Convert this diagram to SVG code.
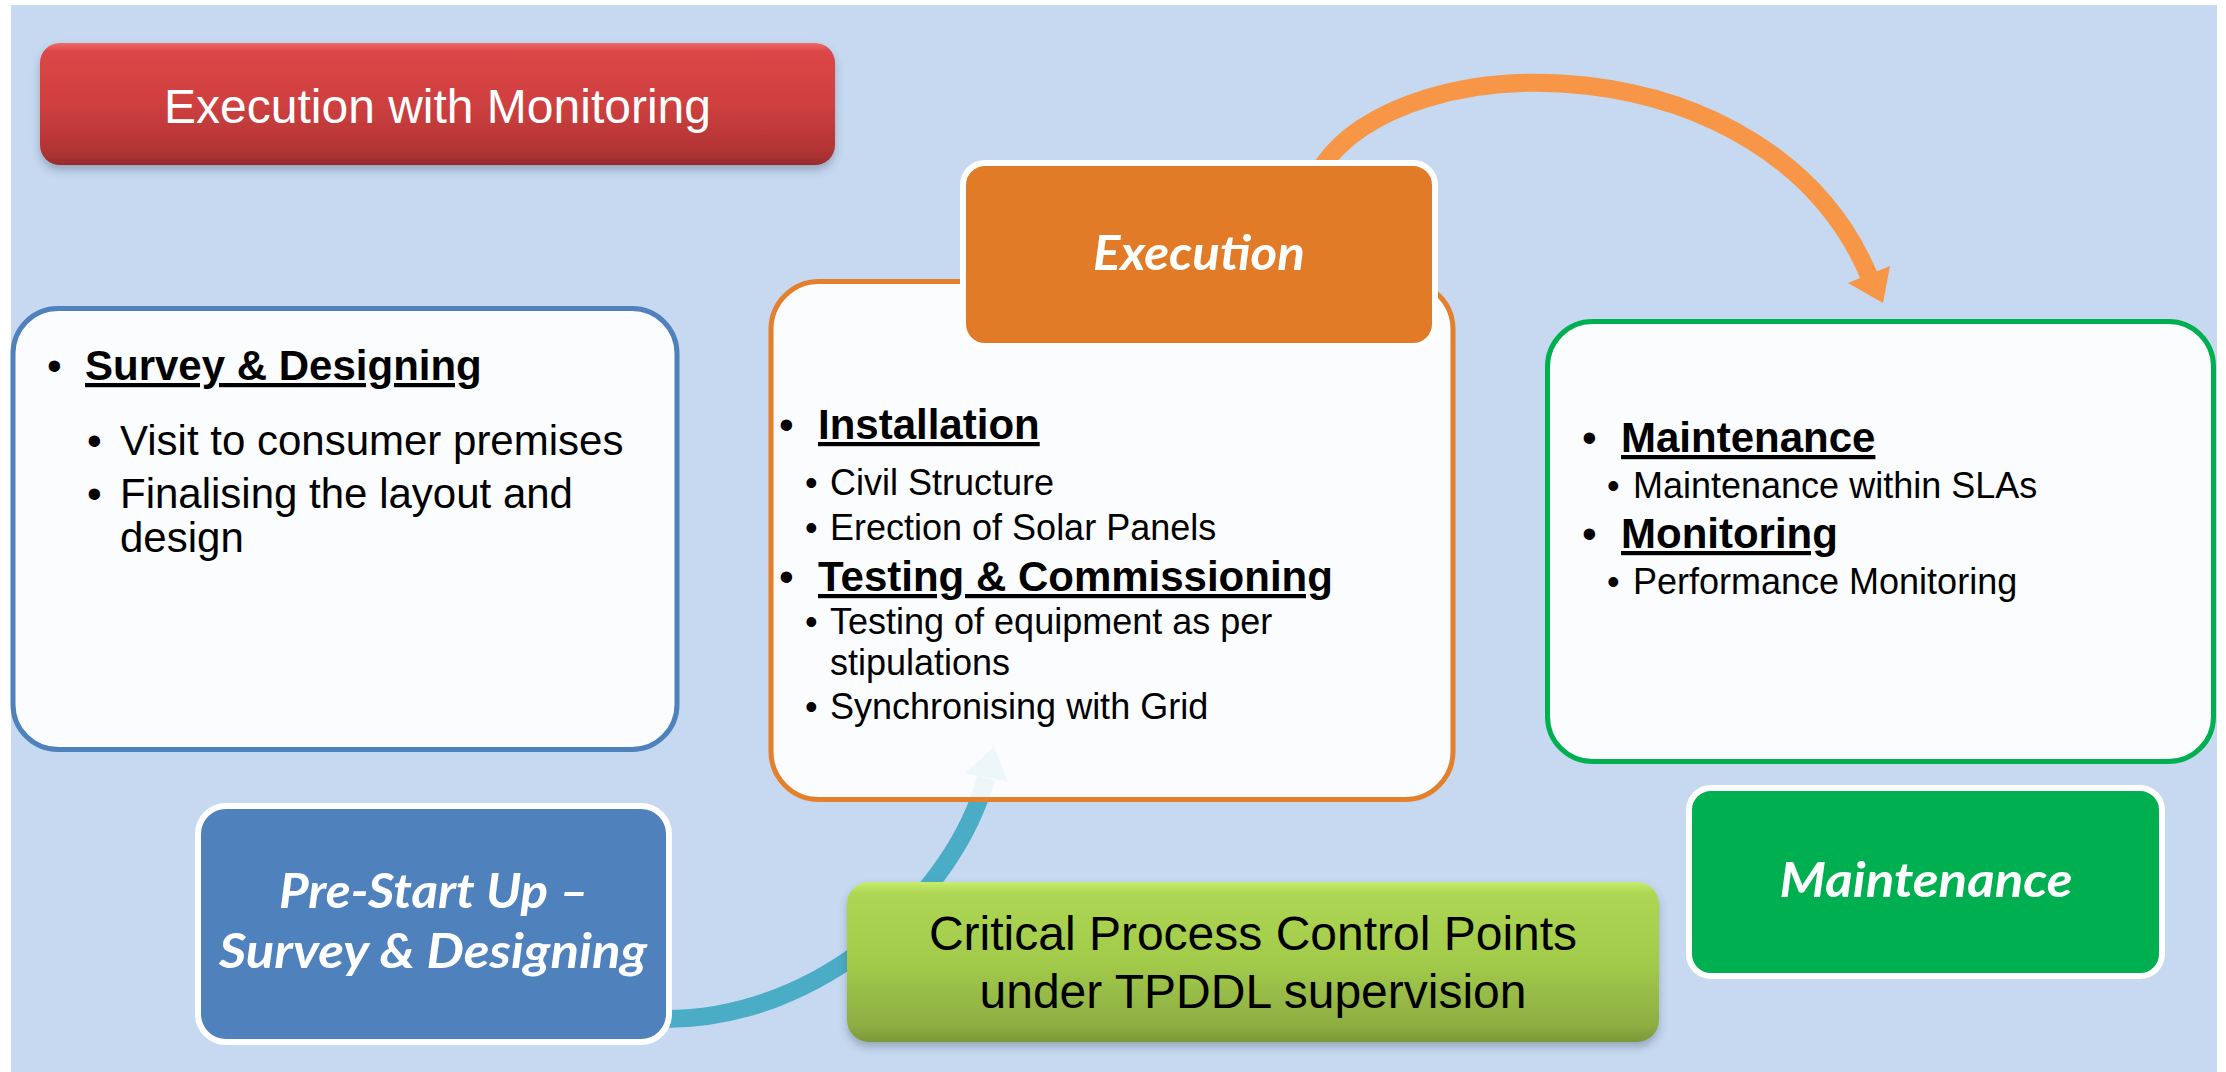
<svg xmlns="http://www.w3.org/2000/svg" width="2226" height="1072" viewBox="0 0 2226 1072">
  <defs>
    <linearGradient id="gRed" x1="0" y1="0" x2="0" y2="1">
      <stop offset="0" stop-color="#EC6A68"/>
      <stop offset="0.07" stop-color="#DC4646"/>
      <stop offset="0.5" stop-color="#CF4040"/>
      <stop offset="0.88" stop-color="#B23434"/>
      <stop offset="1" stop-color="#982C2C"/>
    </linearGradient>
    <linearGradient id="gGreen" x1="0" y1="0" x2="0" y2="1">
      <stop offset="0" stop-color="#C8EC6E"/>
      <stop offset="0.07" stop-color="#AED654"/>
      <stop offset="0.5" stop-color="#A2CB4B"/>
      <stop offset="0.9" stop-color="#8DAD42"/>
      <stop offset="1" stop-color="#7A9837"/>
    </linearGradient>
    <filter id="shadow" x="-5%" y="-10%" width="110%" height="130%">
      <feDropShadow dx="0" dy="5" stdDeviation="4" flood-color="#3A4A60" flood-opacity="0.35"/>
    </filter>
    <style>
      .ar { font-family: "Liberation Sans", Arial, sans-serif; fill: #000; }
      .h { font-size: 42px; font-weight: bold; text-decoration: underline; }
      .b1 { font-size: 42px; }
      .b2 { font-size: 36px; }
      .lbl { font-family: Lato, "Open Sans", sans-serif; font-weight: bold; font-style: italic; font-size: 48px; fill: #fff; text-anchor: middle; }
      .panel { fill: #fff; fill-opacity: 0.9; stroke-width: 5; }
      .tag { stroke: #fff; stroke-width: 6; }
    </style>
  </defs>

  <rect x="11" y="5" width="2206" height="1067" fill="#C6D9F0"/>

  <g id="title">
    <rect x="40" y="43" width="795" height="122" rx="20" fill="url(#gRed)" filter="url(#shadow)"/>
    <text x="437.5" y="123" font-family="Liberation Sans, Arial, sans-serif" font-size="48" fill="#fff" text-anchor="middle">Execution with Monitoring</text>
  </g>

  <g id="connectors">
    <g id="teal-arrow">
      <path d="M 665 1019 C 823 1019, 955 893, 986 778" fill="none" stroke="#4BACC6" stroke-width="18"/>
      <polygon points="965,773 994,747 1008,782" fill="#4BACC6"/>
    </g>
    <g id="orange-arrow">
      <path d="M 1320 170 C 1400 40, 1770 40, 1869 276" fill="none" stroke="#F79646" stroke-width="18"/>
      <polygon points="1848,283 1883,303 1890,266" fill="#F79646"/>
    </g>
  </g>

  <g id="survey-box">
    <rect class="panel" x="13" y="308.5" width="664" height="441" rx="45" stroke="#4F81BD"/>
    <text class="ar b1" x="47" y="380">•</text>
    <text class="ar h" x="85" y="380">Survey &amp; Designing</text>
    <text class="ar b1" x="87" y="455">•</text>
    <text class="ar b1" x="120" y="455">Visit to consumer premises</text>
    <text class="ar b1" x="87" y="508">•</text>
    <text class="ar b1" x="120" y="508">Finalising the layout and</text>
    <text class="ar b1" x="120" y="552">design</text>
  </g>

  <g id="execution-box">
    <rect class="panel" x="771" y="281.5" width="682" height="518" rx="48" stroke="#E47F2B"/>
    <text class="ar b1" x="779" y="439">•</text>
    <text class="ar h" x="818" y="439">Installation</text>
    <text class="ar b2" x="805" y="495">•</text>
    <text class="ar b2" x="830" y="495">Civil Structure</text>
    <text class="ar b2" x="805" y="540">•</text>
    <text class="ar b2" x="830" y="540">Erection of Solar Panels</text>
    <text class="ar b1" x="779" y="591">•</text>
    <text class="ar h" x="818" y="591">Testing &amp; Commissioning</text>
    <text class="ar b2" x="805" y="634">•</text>
    <text class="ar b2" x="830" y="634">Testing of equipment as per</text>
    <text class="ar b2" x="830" y="675">stipulations</text>
    <text class="ar b2" x="805" y="719">•</text>
    <text class="ar b2" x="830" y="719">Synchronising with Grid</text>
  </g>

  <g id="execution-label">
    <rect class="tag" x="963" y="163" width="472" height="183" rx="22" fill="#E27B27"/>
    <text class="lbl" x="1199" y="270" textLength="212" lengthAdjust="spacingAndGlyphs">Execution</text>
  </g>

  <g id="maintenance-box">
    <rect class="panel" x="1547.5" y="321.5" width="666" height="440" rx="45" stroke="#00B050"/>
    <text class="ar b1" x="1582" y="452">•</text>
    <text class="ar h" x="1621" y="452">Maintenance</text>
    <text class="ar b2" x="1607" y="498">•</text>
    <text class="ar b2" x="1633" y="498">Maintenance within SLAs</text>
    <text class="ar b1" x="1582" y="548">•</text>
    <text class="ar h" x="1621" y="548">Monitoring</text>
    <text class="ar b2" x="1607" y="594">•</text>
    <text class="ar b2" x="1633" y="594">Performance Monitoring</text>
  </g>

  <g id="maintenance-label">
    <rect class="tag" x="1689" y="788" width="473" height="188" rx="22" fill="#00B050"/>
    <text class="lbl" x="1926" y="897" textLength="293" lengthAdjust="spacingAndGlyphs">Maintenance</text>
  </g>

  <g id="prestart-label">
    <rect class="tag" x="198" y="806" width="471" height="236" rx="28" fill="#4F81BD"/>
    <text class="lbl" x="434" y="908" textLength="310" lengthAdjust="spacingAndGlyphs">Pre-Start Up –</text>
    <text class="lbl" x="433" y="968" textLength="428" lengthAdjust="spacingAndGlyphs">Survey &amp; Designing</text>
  </g>

  <g id="critical-box">
    <rect x="847" y="882" width="812" height="160" rx="22" fill="url(#gGreen)" filter="url(#shadow)"/>
    <text x="1253" y="950" font-family="Liberation Sans, Arial, sans-serif" font-size="48" fill="#000" text-anchor="middle">Critical Process Control Points</text>
    <text x="1253" y="1008" font-family="Liberation Sans, Arial, sans-serif" font-size="48" fill="#000" text-anchor="middle">under TPDDL supervision</text>
  </g>
</svg>
